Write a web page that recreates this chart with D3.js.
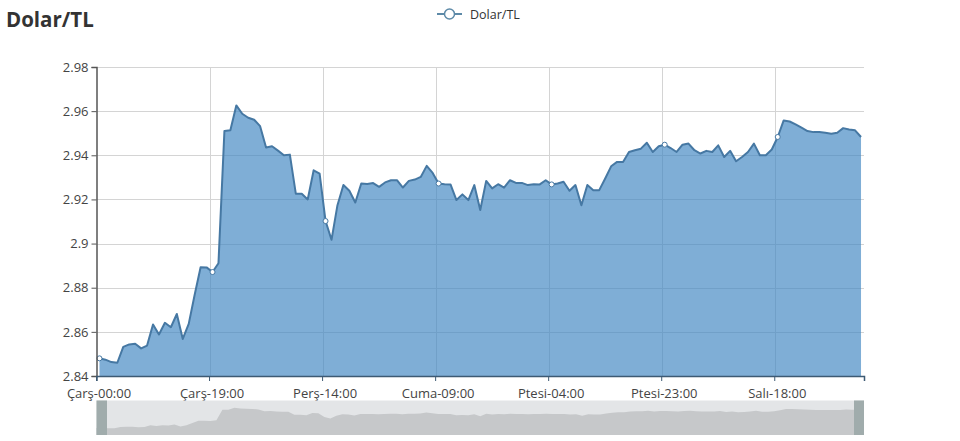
<!DOCTYPE html>
<html><head><meta charset="utf-8">
<script src="https://cdn.jsdelivr.net/npm/d3@7"></script>
<style>body{margin:0;background:#fff;}svg{display:block;font-family:"Open Sans",sans-serif;}</style>
</head><body>
<script>
const seriesName = "Dolar/TL";
const tickLabels = ["Çarş-00:00","Çarş-19:00","Perş-14:00","Cuma-09:00","Ptesi-04:00","Ptesi-23:00","Salı-18:00"];
const tickIndices = [0,19,38,57,76,95,114];
const yTicks = [2.84,2.86,2.88,2.9,2.92,2.94,2.96,2.98];
const values = [
2.848,2.8474,2.8463,2.846,2.8532,2.8543,2.8546,2.8525,2.8538,2.8633,
2.8588,2.8641,2.8621,2.8681,2.8568,2.8636,2.8768,2.8893,2.8892,2.8871,
2.8911,2.951,2.9513,2.9626,2.9588,2.957,2.9561,2.9532,2.9435,2.9441,
2.9421,2.94,2.9403,2.9226,2.9226,2.92,2.9332,2.9317,2.9102,2.9017,
2.9174,2.9265,2.9239,2.9186,2.9272,2.927,2.9274,2.9257,2.9277,2.9287,
2.9287,2.9254,2.9284,2.929,2.9302,2.9352,2.932,2.9272,2.9269,2.9268,
2.9197,2.9223,2.9197,2.9265,2.9152,2.9284,2.925,2.9269,2.9253,2.9287,
2.9275,2.9275,2.9265,2.9269,2.9268,2.9287,2.9268,2.9272,2.928,2.9239,
2.9265,2.9174,2.9265,2.9242,2.9242,2.9295,2.935,2.937,2.937,2.9415,
2.9423,2.943,2.9457,2.9415,2.9441,2.9448,2.9433,2.9415,2.9448,2.9453,
2.9423,2.9408,2.942,2.9415,2.9445,2.9392,2.942,2.9373,2.9392,2.9415,
2.9453,2.94,2.94,2.9426,2.9483,2.9558,2.9553,2.954,2.9525,2.951,
2.9505,2.9505,2.9502,2.9498,2.9502,2.9523,2.9517,2.9513,2.9483
];

const W = 960, H = 441;
const L = 96.5, R = 864, T = 67, B = 376;
const svg = d3.select("body").append("svg").attr("width", W).attr("height", H);

const idx = d3.range(values.length);
const xb = d3.scaleBand().domain(idx).range([L, R]).paddingInner(0).paddingOuter(0);
const xc = i => xb(i) + xb.bandwidth() / 2;
const y = d3.scaleLinear().domain([2.84, 2.98]).range([B, T]);

// title
svg.append("text").attr("x", 6).attr("y", 27).text(seriesName)
  .attr("font-size", 20.5).attr("font-weight", "bold").attr("fill", "#333");

// legend
const lg = svg.append("g");
lg.append("line").attr("x1", 437).attr("x2", 462).attr("y1", 14).attr("y2", 14)
  .attr("stroke", "#5d8aa8").attr("stroke-width", 2);
lg.append("circle").attr("cx", 449.5).attr("cy", 14).attr("r", 5)
  .attr("fill", "#fff").attr("stroke", "#5d8aa8").attr("stroke-width", 1.5);
lg.append("text").attr("x", 470).attr("y", 18.5).text(seriesName)
  .attr("font-size", 12.5).attr("fill", "#333");

// grid
const grid = svg.append("g").attr("stroke", "#d4d4d4").attr("stroke-width", 1);
yTicks.slice(1).forEach(t => {
  grid.append("line").attr("x1", L).attr("x2", R).attr("y1", Math.round(y(t)) + 0.5).attr("y2", Math.round(y(t)) + 0.5);
});
tickIndices.slice(1).forEach(i => {
  const xx = Math.round(xb(i)) + 0.5;
  grid.append("line").attr("x1", xx).attr("x2", xx).attr("y1", T).attr("y2", B);
});

// area + line
const area = d3.area().x((d, i) => xc(i)).y0(y(2.84)).y1(d => y(d));
svg.append("path").datum(values).attr("d", area)
  .attr("fill", "rgb(66,136,194)").attr("fill-opacity", 0.68);
const line = d3.line().x((d, i) => xc(i)).y(d => y(d));
svg.append("path").datum(values).attr("d", line)
  .attr("fill", "none").attr("stroke", "#4678a3").attr("stroke-width", 2).attr("stroke-linejoin", "round");

// markers
svg.selectAll("circle.m").data(tickIndices).enter().append("circle").attr("class", "m")
  .attr("cx", i => xc(i)).attr("cy", i => y(values[i])).attr("r", 2.5)
  .attr("fill", "#fff").attr("stroke", "#4678a3").attr("stroke-width", 1);

// y axis
const yAxis = d3.axisLeft(y).tickValues(yTicks).tickSize(5).tickPadding(3)
  .tickFormat(d => d3.format("")(+d.toFixed(2)));
const ga = svg.append("g").attr("transform", `translate(${L},0)`).call(yAxis);
ga.select(".domain").attr("stroke", "#555").attr("stroke-width", 1.5);
ga.selectAll(".tick line").attr("stroke", "#555");
ga.selectAll("text").attr("font-size", 13).attr("fill", "#444").attr("font-family", "Open Sans");

// x axis
const xAxis = d3.axisBottom(xb).tickValues(tickIndices).tickSize(5).tickPadding(8)
  .tickFormat((d, k) => tickLabels[k]);
const gx = svg.append("g").attr("transform", `translate(0,${B})`).call(xAxis);
gx.select(".domain").attr("stroke", "#3d5a73").attr("stroke-width", 1.5);
gx.selectAll(".tick").attr("transform", d => `translate(${xb(d)},0)`);
gx.selectAll(".tick line").attr("stroke", "#3d5a73");
gx.selectAll(".tick text").attr("x", 2.5).attr("font-size", 13).attr("fill", "#444").attr("font-family", "Open Sans");

// data zoom slider
const sT = 400.5, sB = 435;
svg.append("rect").attr("x", L).attr("y", sT).attr("width", R - L).attr("height", sB - sT).attr("fill", "#e3e5e7");
const sx = d3.scaleLinear().domain([0, values.length - 1]).range([L, R]);
const sy = d3.scaleLinear().domain([2.808, 3.004]).range([sB, sT]);
const sArea = d3.area().x((d, i) => sx(i)).y0(sB).y1(d => sy(d));
svg.append("path").datum(values).attr("d", sArea).attr("fill", "#c6c8ca");
svg.append("rect").attr("x", L).attr("y", sT).attr("width", 10.5).attr("height", sB - sT).attr("fill", "#a0acac");
svg.append("rect").attr("x", R - 10).attr("y", sT).attr("width", 10).attr("height", sB - sT).attr("fill", "#a0acac");
</script>
</body></html>
